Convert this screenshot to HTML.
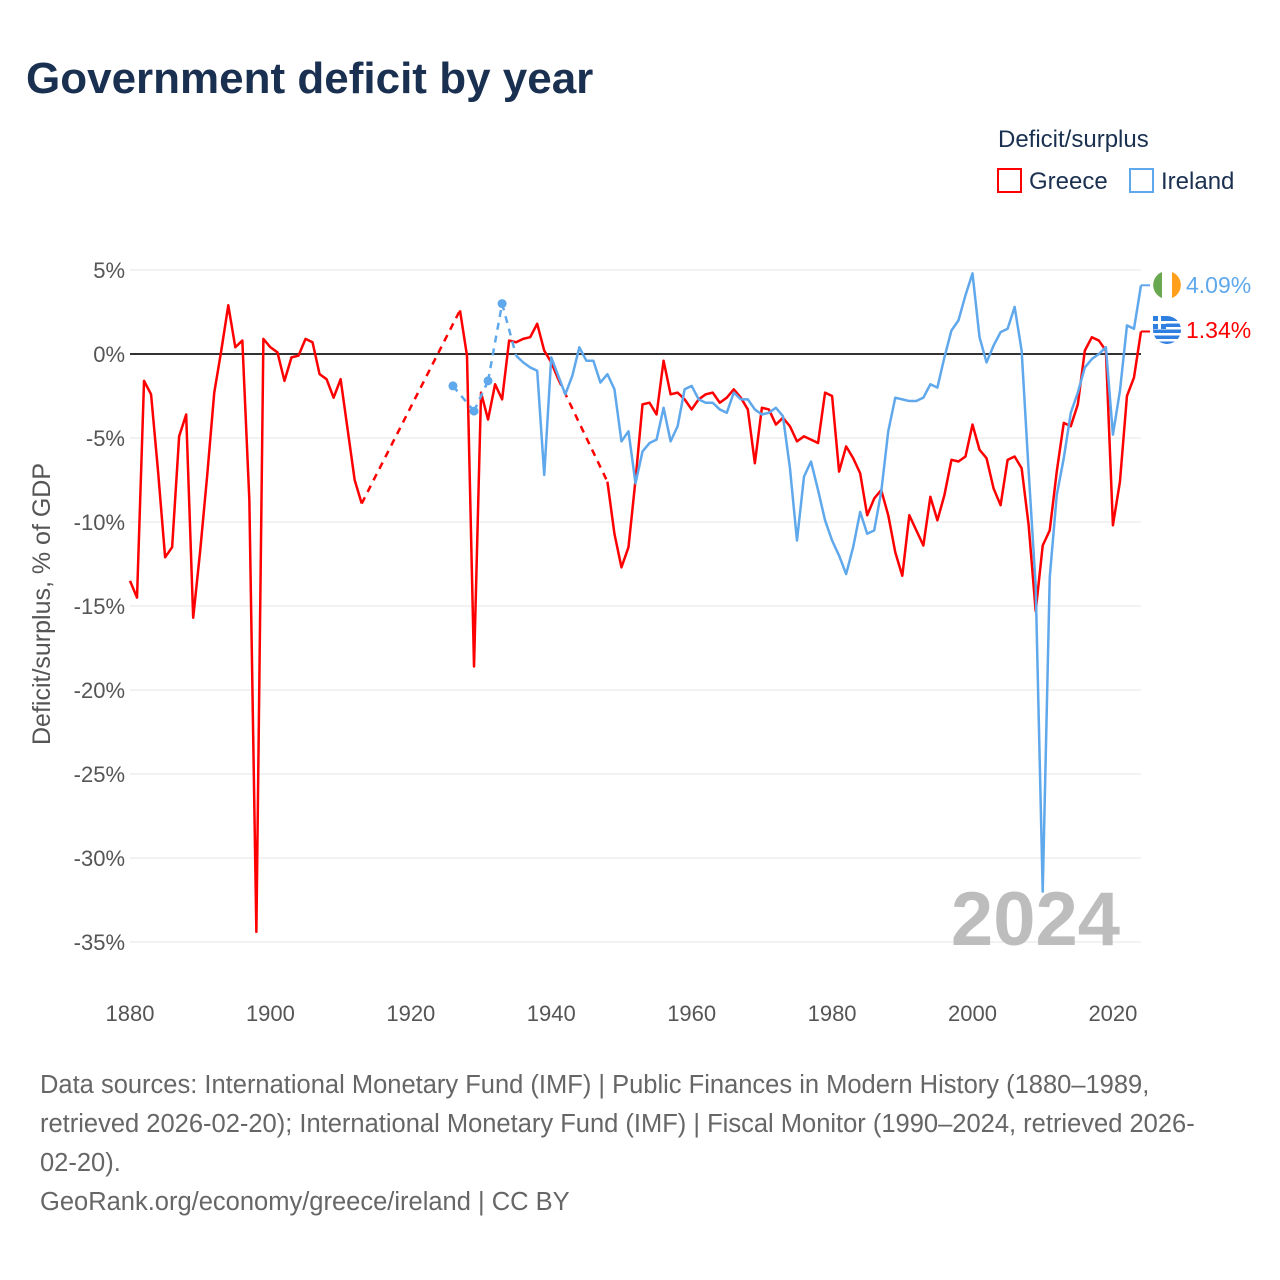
<!DOCTYPE html>
<html><head><meta charset="utf-8"><style>
body{margin:0;background:#fff;width:1280px;height:1280px;overflow:hidden;font-family:"Liberation Sans",sans-serif}
svg{position:absolute;left:0;top:0}
</style></head><body>
<svg id="chart" width="1280" height="1280" xmlns="http://www.w3.org/2000/svg">
<text x="26" y="93" font-size="44" font-weight="bold" fill="#1a3050">Government deficit by year</text>
<text x="998" y="147" font-size="24" fill="#1a3050">Deficit/surplus</text>
<g><rect x="998" y="169" width="23" height="23" fill="none" stroke="#ff0000" stroke-width="2"/><text x="1029" y="189" font-size="24" fill="#1a3050">Greece</text></g>
<g><rect x="1130" y="169" width="23" height="23" fill="none" stroke="#5fa8ec" stroke-width="2"/><text x="1161" y="189" font-size="24" fill="#1a3050">Ireland</text></g>
<text transform="translate(50,604) rotate(-90)" text-anchor="middle" font-size="25" fill="#555">Deficit/surplus, % of GDP</text>
<g id="grid"></g><g id="series"></g>
<text x="1120" y="945" text-anchor="end" font-size="76" font-weight="bold" fill="#bdbdbd">2024</text>
<g font-size="25.5" fill="#666">
<text x="40" y="1093">Data sources: International Monetary Fund (IMF) | Public Finances in Modern History (1880–1989,</text>
<text x="40" y="1132">retrieved 2026-02-20); International Monetary Fund (IMF) | Fiscal Monitor (1990–2024, retrieved 2026-</text>
<text x="40" y="1171">02-20).</text>
<text x="40" y="1210">GeoRank.org/economy/greece/ireland | CC BY</text>
</g>
</svg>
<script>
const yTicks=[5,0,-5,-10,-15,-20,-25,-30,-35];
const xTicks=[1880,1900,1920,1940,1960,1980,2000,2020];
const greeceStart=1880;
const greeceValues=[-13.5,-14.5,-1.6,-2.4,-7,-12.1,-11.5,-4.9,-3.6,-15.7,-11.7,-7.2,-2.3,0.2,2.9,0.4,0.8,-8.7,-34.4,0.9,
0.4,0.1,-1.6,-0.2,-0.1,0.9,0.7,-1.2,-1.5,-2.6,-1.5,-4.5,-7.5,-8.9,null,null,null,null,null,null,
null,null,null,null,null,null,null,2.6,-0.1,-18.6,-2.3,-3.9,-1.8,-2.7,0.8,0.7,0.9,1.0,1.8,0.2,
-0.5,-1.5,null,null,null,null,null,null,-7.6,-10.7,-12.7,-11.5,-7.5,-3.0,-2.9,-3.6,-0.4,-2.4,-2.3,-2.7,
-3.3,-2.7,-2.4,-2.3,-2.9,-2.6,-2.1,-2.6,-3.3,-6.5,-3.2,-3.3,-4.2,-3.8,-4.3,-5.2,-4.9,-5.1,-5.3,-2.3,
-2.5,-7.0,-5.5,-6.2,-7.1,-9.6,-8.6,-8.1,-9.6,-11.8,-13.2,-9.6,-10.5,-11.4,-8.5,-9.9,-8.4,-6.3,-6.4,-6.1,
-4.2,-5.7,-6.2,-8.0,-9.0,-6.3,-6.1,-6.8,-10.2,-15.3,-11.4,-10.5,-7.0,-4.1,-4.3,-3.0,0.2,1.0,0.8,0.2,
-10.2,-7.6,-2.5,-1.4,1.34];
const irelandStart=1926;
const irelandValues=[-1.9,null,null,-3.4,null,-1.6,null,3.0,null,-0.1,-0.5,-0.8,-1.0,-7.2,-0.2,-1.3,-2.4,-1.3,0.4,-0.4,
-0.4,-1.7,-1.2,-2.1,-5.2,-4.6,-7.7,-5.8,-5.3,-5.1,-3.2,-5.2,-4.3,-2.1,-1.9,-2.7,-2.9,-2.9,-3.3,-3.5,
-2.3,-2.7,-2.7,-3.3,-3.6,-3.5,-3.2,-3.7,-6.8,-11.1,-7.3,-6.4,-8.1,-9.9,-11.1,-12.0,-13.1,-11.5,-9.4,-10.7,
-10.5,-8.2,-4.6,-2.6,-2.7,-2.8,-2.8,-2.6,-1.8,-2.0,-0.2,1.4,2.0,3.5,4.8,1.0,-0.5,0.5,1.3,1.5,
2.8,0.2,-7.0,-13.8,-32.0,-13.3,-8.4,-6.2,-3.5,-2.3,-0.8,-0.3,0.0,0.4,-4.8,-2.2,1.7,1.5,4.09];
const NS="http://www.w3.org/2000/svg";
const X=yr=>130+(yr-1880)*(1141-130)/144;
const Y=v=>354-v*16.8;
function mk(tag,attrs,parent){const e=document.createElementNS(NS,tag);for(const k in attrs)e.setAttribute(k,attrs[k]);parent.appendChild(e);return e;}
const grid=document.getElementById('grid');
yTicks.forEach(t=>{
  const l=mk('line',{x1:130,x2:1141,y1:Y(t),y2:Y(t),stroke:t===0?'#333':'#e6e6e6','stroke-width':t===0?2:1},grid);
  
  
  const tx=mk('text',{x:125,y:Y(t)+8,'text-anchor':'end','font-size':22,fill:'#555'},grid);
  tx.textContent=t+'%';
  
  
});
xTicks.forEach(t=>{
  const tx=mk('text',{x:X(t),y:1021,'text-anchor':'middle','font-size':22,fill:'#555'},grid);
  tx.textContent=t;
  
  
});
const ser=document.getElementById('series');
function drawSeries(start,vals,color,name){
  const g=mk('g',{},ser);
  
  
  let seg=[],prev=null;
  const flush=()=>{if(seg.length>1){mk('polyline',{points:seg.map(p=>p.join(',')).join(' '),fill:'none',stroke:color,'stroke-width':2.5,'stroke-linejoin':'round'},g);}seg=[];};
  vals.forEach((v,i)=>{
    if(v===null){flush();return;}
    const p=[X(start+i),Y(v)];
    if(prev&&prev.i!==i-1){
      mk('line',{x1:prev.p[0],y1:prev.p[1],x2:p[0],y2:p[1],stroke:color,'stroke-width':2.5,'stroke-dasharray':'7,6'},g);
    }
    const isoL=i===0||vals[i-1]===null, isoR=i===vals.length-1||vals[i+1]===null;
    if(isoL&&isoR) mk('circle',{cx:p[0],cy:p[1],r:4.5,fill:color},g);
    seg.push(p);prev={i,p};
  });
  flush();
  return prev.p;
}
const gEnd=drawSeries(greeceStart,greeceValues,'#ff0000','greece');
const iEnd=drawSeries(irelandStart,irelandValues,'#5fa8ec','ireland');
function endLabel(p,color,txt,name,flagColors,ly){
  const g=mk('g',{},ser);
  
  
  mk('line',{x1:p[0],y1:p[1],x2:1150,y2:p[1],stroke:color,'stroke-width':2},g);
  const cx=1167;
  if(flagColors==='ie'){
    mk('circle',{cx:cx,cy:ly,r:14,fill:'#fff'},g);
    mk('path',{d:`M${cx-5} ${ly-13} A14 14 0 0 0 ${cx-5} ${ly+13} Z`,fill:'#6aa84f'},g);
    mk('path',{d:`M${cx+5} ${ly-13} A14 14 0 0 1 ${cx+5} ${ly+13} Z`,fill:'#ff9f1c'},g);
  }else{
    mk('circle',{cx:cx,cy:ly,r:14,fill:'#2f7fe0'},g);
    [-8,-2,4,10].forEach(d=>mk('rect',{x:cx-14,y:ly+d-1,width:28,height:2.5,fill:'#fff'},g));
    mk('rect',{x:cx-14,y:ly-14,width:13,height:13,fill:'#2f7fe0'},g);
    mk('rect',{x:cx-9,y:ly-14,width:3,height:13,fill:'#fff'},g);
    mk('rect',{x:cx-14,y:ly-9,width:13,height:3,fill:'#fff'},g);
  }
  const t=mk('text',{x:1186,y:ly+8,'font-size':23,fill:color},g);
  t.textContent=txt;
}
endLabel(iEnd,'#5fa8ec',irelandValues[irelandValues.length-1].toFixed(2)+'%','ireland','ie',285);
endLabel(gEnd,'#ff0000',greeceValues[greeceValues.length-1].toFixed(2)+'%','greece','gr',330);
</script>
</body></html>
